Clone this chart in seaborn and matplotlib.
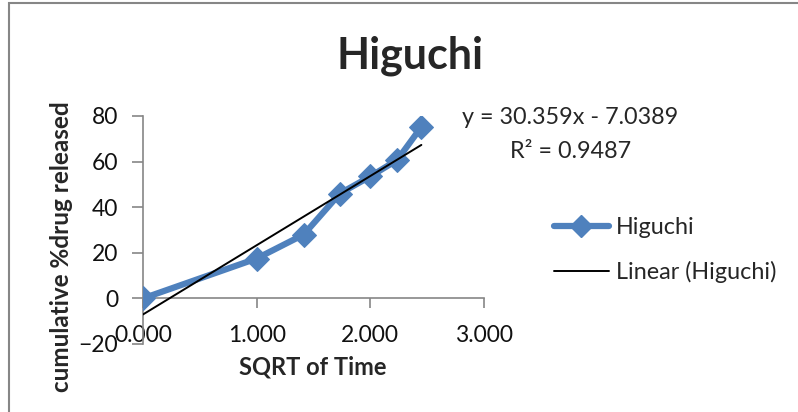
import numpy as np
import pandas as pd
import seaborn as sns
import matplotlib.pyplot as plt
from matplotlib.patches import Rectangle
from matplotlib.lines import Line2D

# Higuchi model: cumulative drug release against square root of time
sqrt_time = [0.000, 1.000, 1.414, 1.732, 2.000, 2.236, 2.449]
released = [0.0, 17.5, 28.0, 46.0, 53.5, 60.7, 75.2]

# Linear trendline coefficients
slope = 30.359
intercept = -7.0389
r_squared = 0.9487

x_ticks = [0.0, 1.0, 2.0, 3.0]
x_tick_labels = ["0.000", "1.000", "2.000", "3.000"]
y_ticks = [-20, 0, 20, 40, 60, 80]

sns.set_theme(style="white")
plt.rcParams["font.family"] = ["Lato", "DejaVu Sans"]

blue = "#4F81BD"
axis_grey = "#868686"

fig = plt.figure(figsize=(7.98, 4.12), dpi=100)
ax = fig.add_axes([143 / 798, 1 - 344 / 412, (484 - 143) / 798, (344 - 116) / 412])

df = pd.DataFrame({"x": sqrt_time, "y": released})
sns.lineplot(data=df, x="x", y="y", ax=ax, color=blue, linewidth=4.5,
             marker="D", markersize=12.5, markeredgecolor=blue, sort=False, zorder=3)

trend_x = np.array([min(sqrt_time), max(sqrt_time)])
trend = pd.DataFrame({"x": trend_x, "y": slope * trend_x + intercept})
sns.lineplot(data=trend, x="x", y="y", ax=ax, color="black", linewidth=1.4, zorder=4)

ax.set_xlim(0, 3)
ax.set_ylim(-20, 80)
ax.set_xticks(x_ticks)
ax.set_xticklabels(x_tick_labels)
ax.set_yticks(y_ticks)

for side in ("top", "right"):
    ax.spines[side].set_visible(False)
ax.spines["bottom"].set_position(("data", 0))
for side in ("left", "bottom"):
    ax.spines[side].set_color(axis_grey)
    ax.spines[side].set_linewidth(1.2)

ax.tick_params(axis="x", direction="out", length=7, width=1.2, color=axis_grey,
               labelsize=16.5, pad=12, bottom=True)
ax.tick_params(axis="y", direction="out", length=8, width=1.2, color=axis_grey,
               labelsize=16.5, pad=10, left=True)
for lab in ax.get_xticklabels() + ax.get_yticklabels():
    lab.set_color("#111111")

ax.set_xlabel("")
ax.set_ylabel("")
fig.text(313 / 798, 1 - 367 / 412, "SQRT of Time", ha="center", va="center",
         fontsize=17, fontweight="bold")
fig.text(62 / 798, 1 - 247 / 412, "cumulative %drug released", ha="center",
         va="center", rotation=90, fontsize=17.5, fontweight="bold")

fig.text(410 / 798, 1 - 56 / 412, "Higuchi", ha="center", va="center",
         fontsize=31, fontweight="bold")

fig.text(462 / 798, 1 - 118 / 412, f"y = {slope}x - {abs(intercept)}",
         ha="left", va="center", fontsize=16.8)
fig.text(510 / 798, 1 - 151 / 412, f"R² = {r_squared}", ha="left",
         va="center", fontsize=16.8)

# Legend
handles = [
    Line2D([], [], color=blue, linewidth=4.5, marker="D", markersize=11),
    Line2D([], [], color="black", linewidth=1.4),
]
fig.legend(handles, ["Higuchi", "Linear (Higuchi)"], loc="center left",
           bbox_to_anchor=(554 / 798, 1 - 250 / 412), frameon=False,
           borderpad=0, borderaxespad=0,
           fontsize=16.8, handlelength=2.35, handletextpad=0.3, labelspacing=1.0,
           markerscale=1.0)

# Chart area border
fig.patches.append(Rectangle((9 / 798, -0.05), 1.1, 1 - 3 / 412 + 0.05,
                             transform=fig.transFigure, fill=False,
                             edgecolor=axis_grey, linewidth=1.5))

fig.savefig("out.png", dpi=100)
